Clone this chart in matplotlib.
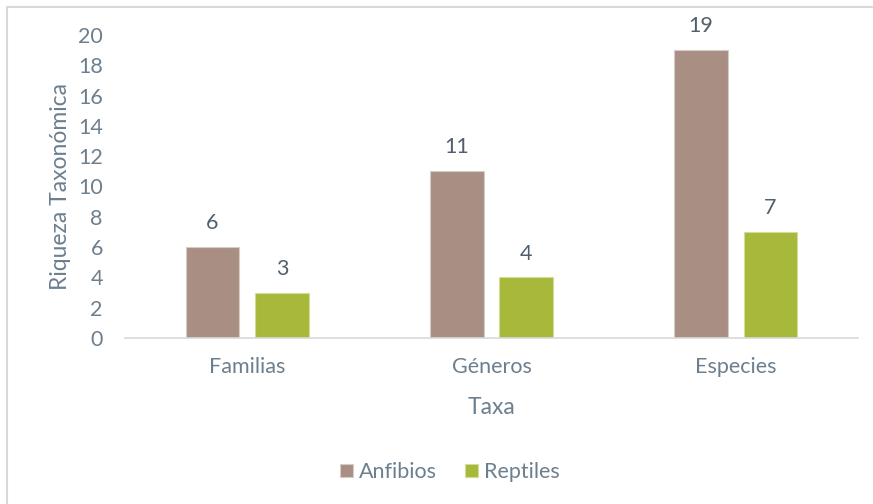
import numpy as np
import matplotlib
matplotlib.use("Agg")
import matplotlib.pyplot as plt
import matplotlib.patches as patch

plt.rcParams['font.family'] = ['Lato', 'DejaVu Sans']

categorias = ["Familias", "Géneros", "Especies"]
anfibios = [6, 11, 19]
reptiles = [3, 4, 7]
yticks = list(range(0, 21, 2))

txt = '#6C7F8F'
lbl = '#515F6D'
c_anf = '#A98F83'
c_rep = '#A7B83A'

fig = plt.figure(figsize=(8.73, 5.04), dpi=100)
ax = fig.add_axes([125/873, 1 - 338/504, 733/873, 303/504])

x = np.arange(len(categorias))
w = 0.22
off = 0.142
b1 = ax.bar(x - off, anfibios, w, color=c_anf, edgecolor='#D8CCC6', linewidth=0.8, label='Anfibios')
b2 = ax.bar(x + off, reptiles, w, color=c_rep, edgecolor='#D3DD9A', linewidth=0.8, label='Reptiles')

for bars, vals in [(b1, anfibios), (b2, reptiles)]:
    for b, v in zip(bars, vals):
        ax.annotate(str(v), (b.get_x() + b.get_width()/2, v), xytext=(0, 10),
                    textcoords='offset points', ha='center', va='bottom',
                    fontsize=15.5, color=lbl)

ax.set_xlim(-0.5, 2.5)
ax.set_ylim(0, 20)
ax.set_yticks(yticks)
ax.set_xticks(x)
ax.set_xticklabels(categorias)
ax.tick_params(axis='both', length=0, labelsize=15.5, colors=txt)
ax.tick_params(axis='y', pad=16)
ax.tick_params(axis='x', pad=14)

for s in ['top', 'right', 'left']:
    ax.spines[s].set_visible(False)
ax.spines['bottom'].set_color('#D9D9D9')
ax.spines['bottom'].set_linewidth(1.2)

ax.set_ylabel('Riqueza Taxonómica', fontsize=16.5, color=txt, labelpad=5)
ax.set_xlabel('Taxa', fontsize=16.5, color=txt, labelpad=14)

fig.legend(handles=[b1, b2], labels=['Anfibios', 'Reptiles'], loc='center',
           bbox_to_anchor=(450/873, 1 - 472/504), ncol=2, frameon=False,
           fontsize=15.5, labelcolor=txt, handlelength=0.6, handleheight=0.6,
           handletextpad=0.3, columnspacing=1.3)

# chart border (only top/left visible in crop)
fig.patches.append(patch.Rectangle((7/873, -0.1), 1.2, 1 - 7/504 + 0.1,
                                   transform=fig.transFigure, fill=False,
                                   edgecolor='#D9D9D9', linewidth=1.5))

plt.savefig("out.png", dpi=100)
